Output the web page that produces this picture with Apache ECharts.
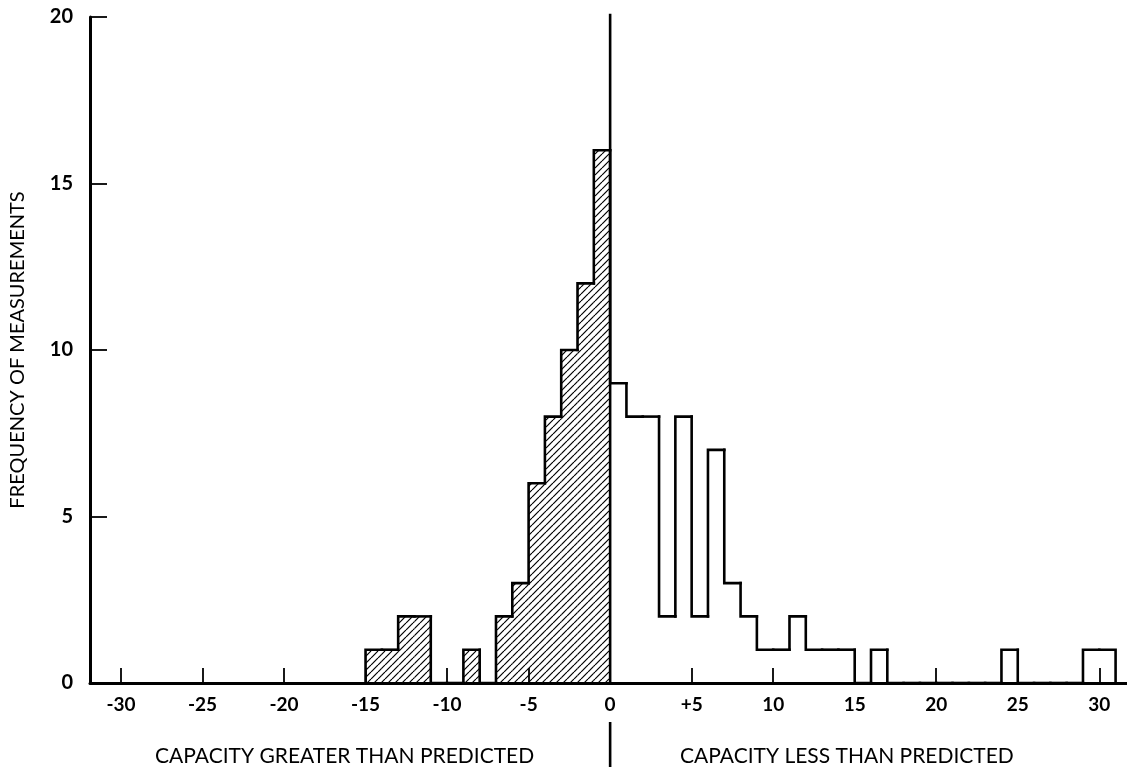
<!DOCTYPE html>
<html>
<head>
<meta charset="utf-8">
<script src="https://cdn.jsdelivr.net/npm/echarts@6/dist/echarts.min.js"></script>
<style>
html,body{margin:0;padding:0;background:#fff;}
#chart{width:1127px;height:774px;}
</style>
</head>
<body>
<div id="chart"></div>
<script>
// Histogram bins: lower edge of each unit-wide bin, and the count in it
var binStarts = [-15,-14,-13,-12,-11,-10,-9,-8,-7,-6,-5,-4,-3,-2,-1,
                 0,1,2,3,4,5,6,7,8,9,10,11,12,13,14,15,16,17,18,19,20,21,22,23,24,25,26,27,28,29,30];
var counts    = [1,1,2,2,0,0,1,0,2,3,6,8,10,12,16,
                 9,8,8,2,8,2,7,3,2,1,1,2,1,1,1,0,1,0,0,0,0,0,0,0,1,0,0,0,0,1,1];
var xTickValues = [-30,-25,-20,-15,-10,-5,0,5,10,15,20,25,30];
var xTickLabels = ['-30','-25','-20','-15','-10','-5','0','+5','10','15','20','25','30'];
var yTicks = [0,5,10,15,20];
var zeroLine = [[0, 0], [0, 20.1]];
var yAxisTitle = 'FREQUENCY OF MEASUREMENTS';
var leftCaption = 'CAPACITY GREATER THAN PREDICTED';
var rightCaption = 'CAPACITY LESS THAN PREDICTED';

var FONT = 'Lato';
var LW = 2.6;

// hatch pattern
var tile = document.createElement('canvas');
var S = 7;
tile.width = S; tile.height = S;
var tc = tile.getContext('2d');
tc.strokeStyle = '#000';
tc.lineWidth = 1.2;
[-S, 0, S].forEach(function (k) {
  tc.beginPath();
  tc.moveTo(k, S);
  tc.lineTo(k + S, 0);
  tc.stroke();
});

var data = binStarts.map(function (x0, i) {
  return [x0, counts[i], i > 0 ? counts[i - 1] : 0, i === binStarts.length - 1 ? 1 : 0];
});

var chart = echarts.init(document.getElementById('chart'), null, {renderer: 'canvas'});

function renderItem(params, api) {
  var x0 = api.value(0), h = api.value(1), hp = api.value(2), last = api.value(3);
  var children = [];
  var pTL = api.coord([x0, h]);
  var pBR = api.coord([x0 + 1, 0]);
  if (h > 0 && x0 < 0) {
    children.push({
      type: 'rect',
      shape: {x: pTL[0], y: pTL[1], width: pBR[0] - pTL[0], height: pBR[1] - pTL[1]},
      style: {fill: {image: tile, repeat: 'repeat'}, stroke: null}
    });
  }
  var pts = [api.coord([x0, hp]), api.coord([x0, h]), api.coord([x0 + 1, h])];
  if (last && h > 0) pts.push(api.coord([x0 + 1, 0]));
  children.push({
    type: 'polyline',
    shape: {points: pts},
    style: {stroke: '#000', lineWidth: LW, fill: null, lineJoin: 'miter', lineCap: 'square'}
  });
  return {type: 'group', children: children};
}

var option = {
  animation: false,
  backgroundColor: '#fff',
  grid: {left: 84, right: 0, top: 17, bottom: 91, containLabel: false},
  xAxis: {
    type: 'value',
    min: -31.9,
    max: 31.7,
    axisLine: {show: true, onZero: false, lineStyle: {color: '#000', width: 3}},
    axisTick: {show: true, inside: true, length: 15, customValues: xTickValues.filter(function (v) { return v !== 0; }),
      lineStyle: {color: '#000', width: 1.8}},
    axisLabel: {
      show: true, customValues: xTickValues, margin: 12,
      color: '#000', fontFamily: FONT, fontSize: 19, fontWeight: 'bold',
      formatter: function (v) { var i = xTickValues.indexOf(v); return i >= 0 ? xTickLabels[i] : ''; }
    },
    splitLine: {show: false}
  },
  yAxis: {
    type: 'value',
    min: 0, max: 20, interval: 5,
    name: yAxisTitle,
    nameLocation: 'middle',
    nameGap: 62,
    nameTextStyle: {color: '#000', fontFamily: FONT, fontSize: 20},
    axisLine: {show: true, onZero: false, lineStyle: {color: '#000', width: 3}},
    axisTick: {show: true, inside: true, length: 17, lineStyle: {color: '#000', width: 1.8}},
    axisLabel: {color: '#000', fontFamily: FONT, fontSize: 20, fontWeight: 'bold', margin: 17},
    splitLine: {show: false}
  },
  series: [{
    type: 'custom',
    renderItem: renderItem,
    data: data,
    encode: {x: 0, y: 1},
    clip: false,
    z: 3
  }, {
    type: 'line',
    data: zeroLine,
    symbol: 'none',
    silent: true,
    clip: false,
    z: 4,
    lineStyle: {color: '#000', width: 2.6}
  }]
};
chart.setOption(option);

var zx = chart.convertToPixel({xAxisIndex: 0}, 0);
chart.setOption({
  graphic: [
    {type: 'line', shape: {x1: zx, y1: 722, x2: zx, y2: 767}, style: {stroke: '#000', lineWidth: 2.6}},
    {type: 'text', left: 155, top: 746, style: {text: leftCaption, fill: '#000', font: '21px ' + FONT}},
    {type: 'text', left: 680, top: 746, style: {text: rightCaption, fill: '#000', font: '21px ' + FONT}}
  ]
});
</script>
</body>
</html>
